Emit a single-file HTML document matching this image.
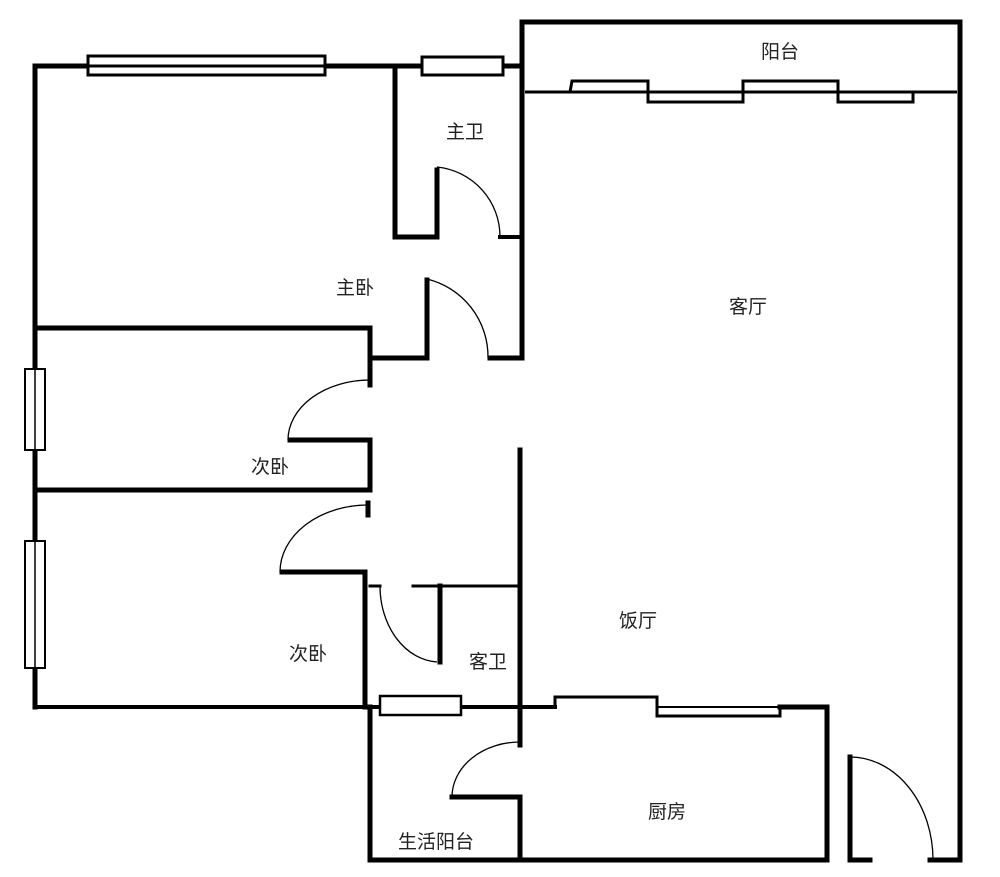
<!DOCTYPE html>
<html><head><meta charset="utf-8"><style>
html,body{margin:0;padding:0;background:#fff}
svg{display:block}
text{font-family:"Liberation Sans","Noto Sans CJK SC",sans-serif;font-size:19px;fill:#222;text-anchor:middle;dominant-baseline:middle}
</style></head><body>
<svg width="1000" height="877" viewBox="0 0 1000 877" xmlns="http://www.w3.org/2000/svg">
<g stroke="#000" stroke-width="5" fill="none" stroke-linecap="square">
<!-- left outer wall -->
<line x1="35" y1="66" x2="35" y2="707"/>
<!-- top wall -->
<line x1="35" y1="66" x2="522" y2="66"/>
<!-- balcony -->
<polyline points="522,358 522,22 960,22 960,860"/>
<!-- master bath -->
<polyline points="395,66 395,237 437,237 437,170"/>
<line x1="500" y1="237" x2="520" y2="237" stroke-width="4"/>
<!-- master bedroom door -->
<polyline points="372,358 427,358 427,280"/>
<line x1="490" y1="358" x2="520" y2="358"/>
<!-- bedroom1 -->
<polyline points="37,328 370,328 370,385"/>
<polyline points="290,440 370,440 370,490"/>
<line x1="37" y1="490" x2="370" y2="490"/>
<!-- bedroom2 -->
<line x1="368" y1="503" x2="368" y2="515"/>
<polyline points="282,572 365,572 365,707"/>
<!-- guest bath -->
<line x1="370" y1="586" x2="380" y2="586" stroke-width="3"/>
<line x1="413" y1="586" x2="520" y2="586" stroke-width="3"/>
<line x1="440" y1="586" x2="440" y2="662"/>
<line x1="520" y1="450" x2="520" y2="745"/>
<!-- bottom wall -->
<line x1="35" y1="707" x2="555" y2="707" stroke-width="4"/>
<polyline points="780,707 827,707 827,860"/>
<!-- utility balcony -->
<polyline points="370,707 370,860 827,860"/>
<polyline points="452,797 520,797 520,860"/>
<!-- entrance -->
<polyline points="850,757 850,860 870,860"/>
<line x1="930" y1="860" x2="960" y2="860"/>
</g>
<!-- windows -->
<g stroke="#000" stroke-width="3" fill="#fff">
<rect x="88" y="56" width="237" height="19"/>
<line x1="88" y1="66" x2="325" y2="66"/>
<rect x="422" y="57" width="81" height="18"/>
<rect x="25" y="369" width="20" height="81" stroke-width="2"/>
<line x1="35" y1="369" x2="35" y2="450" stroke-width="1.5"/>
<rect x="25" y="541" width="20" height="127" stroke-width="2"/>
<line x1="35" y1="541" x2="35" y2="668" stroke-width="1.5"/>
<rect x="380" y="696" width="81" height="19" stroke-width="2.5"/>
</g>
<g stroke="#000" stroke-width="3" fill="none">
<line x1="525" y1="92" x2="957" y2="92"/>
<polyline points="570,92 572,81 648,81 648,102 743,102 743,81 838,81 838,102 913,102 913,92"/>
<polyline points="555,707 555,697 657,697 657,716 780,716 780,707"/>
<line x1="657" y1="707" x2="780" y2="707" stroke-width="2"/>
</g>
<!-- door arcs -->
<g stroke="#000" stroke-width="1.3" fill="none">
<path d="M437,167 A70,70 0 0 1 500,237"/>
<path d="M427,279 A80,80 0 0 1 488,358"/>
<path d="M370,380 A82,60 0 0 0 288,440"/>
<path d="M368,505 A88,67 0 0 0 280,572"/>
<path d="M380,586 A60,76 0 0 0 437,662"/>
<path d="M520,742 A68,55 0 0 0 452,797"/>
<path d="M850,757 A83,103 0 0 1 933,860"/>
</g>
<text x="780" y="53">阳台</text>
<text x="465" y="133">主卫</text>
<text x="355" y="289">主卧</text>
<text x="748" y="308">客厅</text>
<text x="270" y="468">次卧</text>
<text x="308" y="655">次卧</text>
<text x="638" y="622">饭厅</text>
<text x="488" y="663">客卫</text>
<text x="667" y="813">厨房</text>
<text x="436" y="843">生活阳台</text>
</svg>
</body></html>
